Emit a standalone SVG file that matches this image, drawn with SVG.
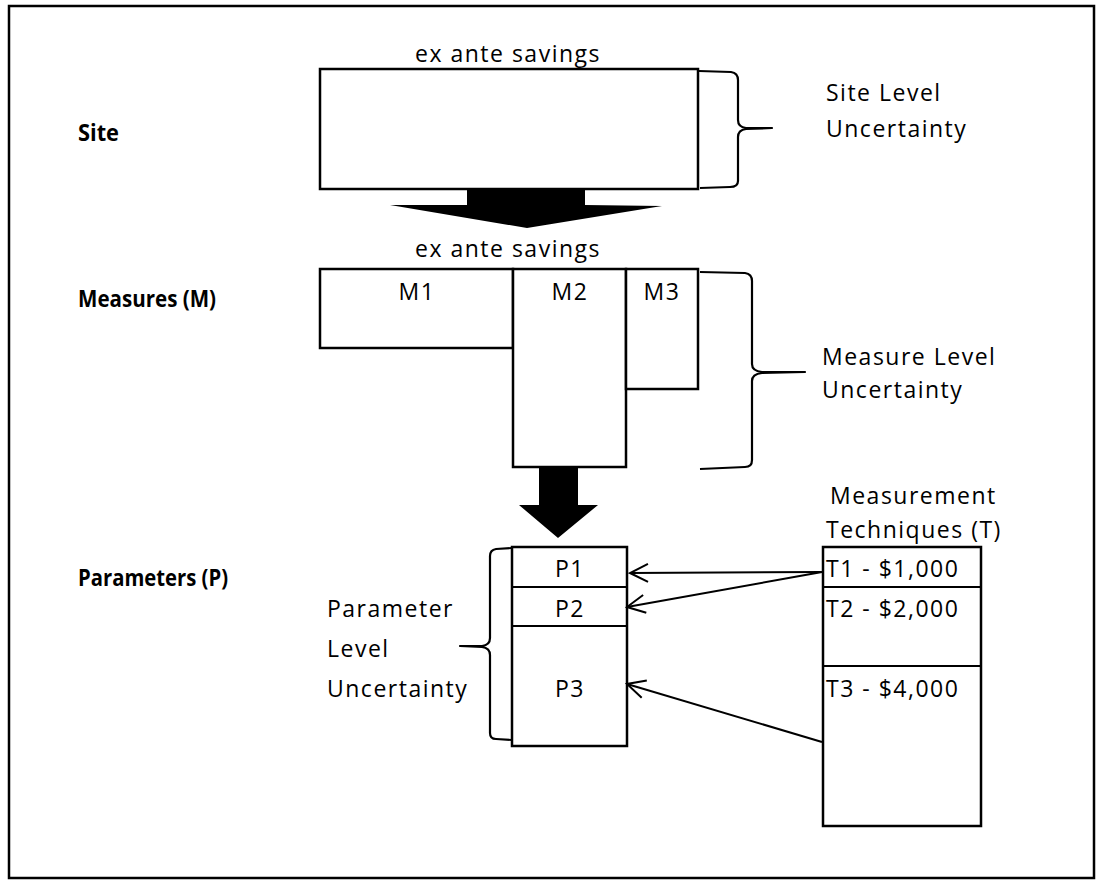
<svg xmlns="http://www.w3.org/2000/svg" width="1096" height="880" viewBox="0 0 1096 880">
  <style>
    .box { fill: #fff; stroke: #000; stroke-width: 2.5; }
    .brace { fill: none; stroke: #000; stroke-width: 2.2; stroke-linejoin: round; }
    .big { fill: #000; stroke: none; }
    .thin { fill: none; stroke: #000; stroke-width: 2; }
    .t { font-family: "Open Sans", "Liberation Sans", sans-serif; font-size: 23px; letter-spacing: 1.5px; fill: #000; }
    .c { text-anchor: middle; }
    .b { font-family: "Open Sans", "Liberation Sans", sans-serif; font-size: 24px; font-weight: bold; fill: #000; }
  </style>
  <defs>
    <marker id="openArrow" viewBox="-20 -11 22 22" markerWidth="22" markerHeight="22" refX="0" refY="0" orient="auto" markerUnits="userSpaceOnUse">
      <path d="M-18,-9 L0,0 L-18,9" fill="none" stroke="#000" stroke-width="2"/>
    </marker>
  </defs>

  <rect x="0" y="0" width="1096" height="880" fill="#fff"/>
  <!-- outer frame -->
  <rect x="9" y="6" width="1085" height="872" fill="none" stroke="#000" stroke-width="2.5"/>

  <!-- row labels -->
  <g id="label-site"><text class="b" x="78" y="141" textLength="41" lengthAdjust="spacingAndGlyphs">Site</text></g>
  <g id="label-measures"><text class="b" x="78" y="307" textLength="138" lengthAdjust="spacingAndGlyphs">Measures (M)</text></g>
  <g id="label-parameters"><text class="b" x="78" y="586" textLength="150" lengthAdjust="spacingAndGlyphs">Parameters (P)</text></g>

  <!-- site level -->
  <g id="site">
    <text class="t c" x="508" y="62">ex ante savings</text>
    <rect class="box" x="320" y="69" width="378" height="120"/>
  </g>
  <g id="site-uncertainty">
    <path class="brace" d="M699,71 L731,72 Q738,73 738,80 L738,120 Q738,127 746,128 L772,128 L746,129 Q738,130 738,137 L738,181 Q738,187 730,187 L700,188"/>
    <text class="t" x="826" y="101">Site Level</text>
    <text class="t" x="826" y="137">Uncertainty</text>
  </g>

  <!-- measure level -->
  <g id="measures">
    <text class="t c" x="508" y="257">ex ante savings</text>
    <rect class="box" x="320" y="269" width="193" height="79"/>
    <rect class="box" x="513" y="269" width="113" height="198"/>
    <rect class="box" x="626" y="269" width="72" height="120"/>
    <text class="t c" x="417" y="300">M1</text>
    <text class="t c" x="570" y="300">M2</text>
    <text class="t c" x="662" y="300">M3</text>
  </g>
  <g id="measure-uncertainty">
    <path class="brace" d="M700,272 L745,273 Q752,274 752,281 L752,364 Q752,371 762,372 L805,372 L762,373 Q752,374 752,381 L752,460 Q752,467 745,467 L700,469"/>
    <text class="t" x="822" y="365" letter-spacing="2.5">Measure Level</text>
    <text class="t" x="822" y="398">Uncertainty</text>
  </g>

  <!-- parameter level -->
  <g id="parameters">
    <rect class="box" x="512" y="547" width="115" height="199"/>
    <line class="thin" x1="512" y1="587" x2="627" y2="587" stroke-width="2.5"/>
    <line class="thin" x1="512" y1="626" x2="627" y2="626" stroke-width="2.5"/>
    <text class="t c" x="570" y="577">P1</text>
    <text class="t c" x="570" y="617">P2</text>
    <text class="t c" x="570" y="697">P3</text>
  </g>
  <g id="parameter-uncertainty">
    <path class="brace" d="M512,548 L496,549 Q490,550 490,556 L490,638 Q490,645 482,646 L460,646 L482,647 Q490,648 490,655 L490,733 Q490,739 496,739 L512,740"/>
    <text class="t" x="327" y="617">Parameter</text>
    <text class="t" x="327" y="657">Level</text>
    <text class="t" x="327" y="697">Uncertainty</text>
  </g>

  <!-- measurement techniques -->
  <g id="techniques">
    <text class="t" x="830" y="504">Measurement</text>
    <text class="t" x="826" y="538">Techniques (T)</text>
    <rect class="box" x="823" y="547" width="158" height="279"/>
    <line class="thin" x1="823" y1="587" x2="981" y2="587" stroke-width="2.5"/>
    <line class="thin" x1="823" y1="666" x2="981" y2="666" stroke-width="2.5"/>
    <text class="t" x="826" y="577" letter-spacing="1">T1 - $1,000</text>
    <text class="t" x="826" y="617" letter-spacing="1">T2 - $2,000</text>
    <text class="t" x="826" y="697" letter-spacing="1">T3 - $4,000</text>
  </g>

  <!-- connectors -->
  <g id="connectors">
    <polygon class="big" points="467,189 585,189 585,205 662,206 527,228 390,205 467,205"/>
    <polygon class="big" points="539,467 578,467 578,505 598,505 558,538 519,505 539,505"/>
    <line class="thin" x1="822" y1="572" x2="630" y2="573" marker-end="url(#openArrow)"/>
    <line class="thin" x1="822" y1="572" x2="627" y2="607" marker-end="url(#openArrow)"/>
    <line class="thin" x1="822" y1="742" x2="627" y2="684" marker-end="url(#openArrow)"/>
  </g>
</svg>
